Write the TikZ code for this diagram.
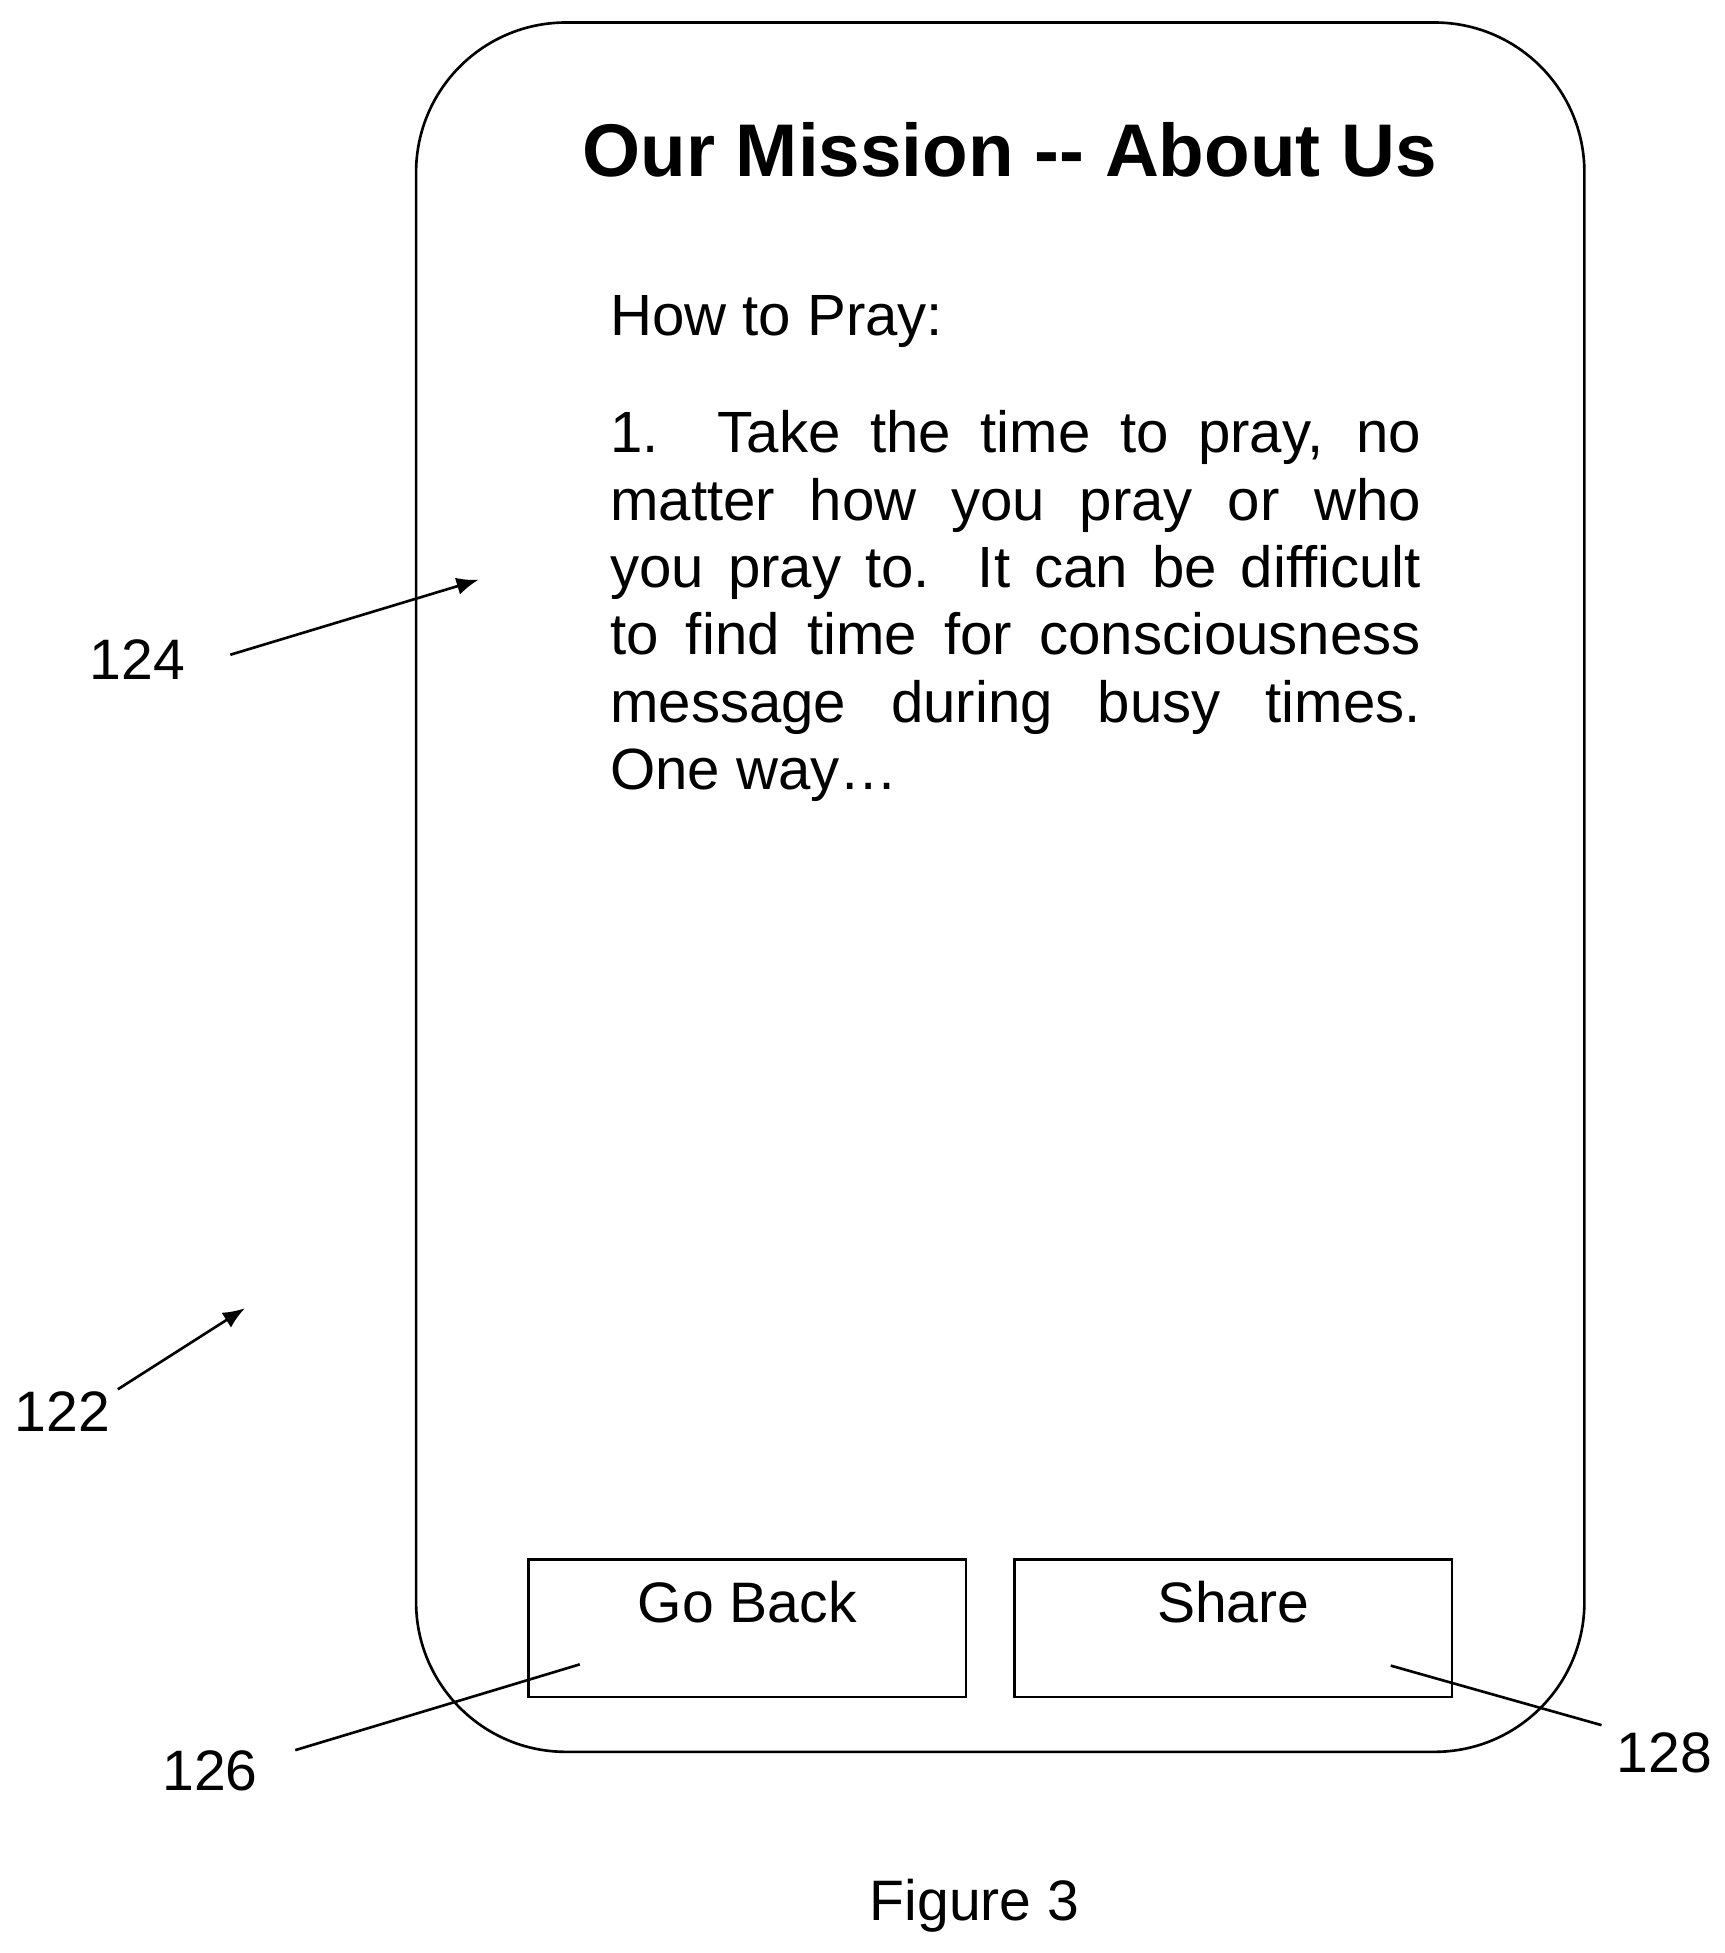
\documentclass[tikz,border=0pt]{standalone}
\usepackage{fontspec}
\setmainfont{Liberation Sans}
\usetikzlibrary{positioning,arrows.meta}
\tikzset{
  phone/.style  = {draw, line width=1.2pt, rounded corners=2.4cm},
  button/.style = {draw, line width=1.2pt, minimum width=7cm, minimum height=2.2cm},
  refnum/.style = {font=\fontsize{26}{28}\selectfont},
  leader/.style = {line width=1.2pt},
  pointer/.style = {leader, -{Latex[length=10pt,width=8pt]}}
}
\newcommand{\jline}[1]{\hbox to 12.98cm{#1}}
\begin{document}
\begin{tikzpicture}[x=0.02cm,y=-0.02cm]
  \useasboundingbox (0,0) rectangle (1380,1563);
  % screen outline
  \draw[phone] (333,18) rectangle (1268,1402);
  \node[font=\bfseries\fontsize{34}{38}\selectfont] (title) at (808,120) {Our Mission -{}- About Us};
  \node[anchor=north west, inner sep=0pt, align=left,
        font=\fontsize{26.5}{30.7}\selectfont] (body) at (488,236)
    {How to Pray:\\[0.8cm]
     \jline{1.\ \ Take the time to pray, no}\\
     \jline{matter how you pray or who}\\
     \jline{you pray to.\ \ It can be difficult}\\
     \jline{to find time for consciousness}\\
     \jline{message during busy times.}\\
     One way…};
  % buttons
  \node[button, refnum, anchor=north west, text depth=0.85cm] (back) at (422,1247) {Go Back};
  \node[button, refnum, anchor=north west, text depth=0.85cm] (share) at (811,1247) {Share};
  % reference numerals
  \node[refnum] (n124) at (110,528) {124};
  \node[refnum] (n122) at (50,1130) {122};
  \node[refnum] (n126) at (168,1417) {126};
  \node[refnum] (n128) at (1332,1403) {128};
  \node[refnum] (fig) at (780,1525) {Figure 3};
  \coordinate (p124) at (383,464);
  \coordinate (p122) at (196,1047);
  \coordinate (p126) at (464,1332);
  \coordinate (p128) at (1113,1333);
  \draw[pointer] (n124.east) ++(30,-4) -- (p124);
  \draw[pointer] (n122.north east) ++(0,4) -- (p122);
  \draw[leader] (n126.north east) ++(24,6) -- (p126);
  \draw[leader] (n128.north west) ++(-6,0) -- (p128);
\end{tikzpicture}
\end{document}
